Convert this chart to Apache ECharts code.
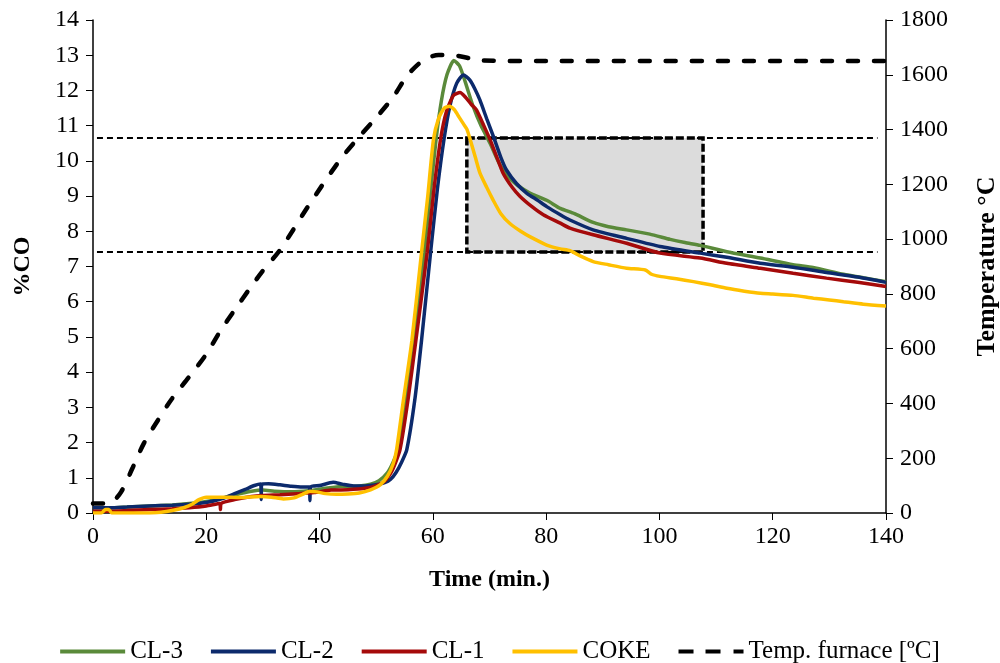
<!DOCTYPE html>
<html>
<head>
<meta charset="utf-8">
<script src="https://cdn.jsdelivr.net/npm/echarts@6/dist/echarts.min.js"></script>
<style>
html,body{margin:0;padding:0;background:#fff;}
#chart{width:1000px;height:663px;}
</style>
</head>
<body>
<div id="chart"></div>
<script>
// time (min) , %CO
var cl3 = [[0,0.15],[3,0.15],[6,0.17],[10,0.2],[14,0.23],[17,0.27],[20,0.33],[23,0.43],[26,0.55],[28,0.62],[30,0.65],[32,0.62],[35,0.6],[38,0.63],[41,0.7],[44,0.75],[47,0.77],[49,0.82],[50.5,0.92],[52,1.15],[53,1.45],[53.8,1.8],[55.1,3.2],[56.7,4.9],[58.5,7.4],[59.5,9.0],[60.6,10.65],[61.5,11.7],[62.5,12.45],[63.7,12.85],[64.7,12.7],[65.7,12.25],[67.1,11.55],[68.5,11.0],[70.1,10.5],[71.5,10.0],[73,9.6],[75,9.3],[77.2,9.08],[80.1,8.88],[82.5,8.65],[85,8.5],[88.3,8.25],[91,8.13],[94.2,8.04],[98.3,7.92],[101.9,7.77],[104.5,7.68],[107.2,7.6],[111.9,7.42],[117.8,7.24],[123.6,7.05],[127.1,6.97],[132.5,6.78],[136,6.68],[140,6.57]];
var cl2 = [[0,0.15],[3,0.15],[6,0.17],[10,0.2],[14,0.22],[17,0.25],[20,0.3],[23,0.42],[25,0.55],[27,0.68],[28.5,0.78],[29.6,0.82],[29.7,0.38],[29.8,0.82],[31,0.83],[33,0.8],[35,0.76],[37,0.74],[38.2,0.74],[38.3,0.35],[38.4,0.74],[40,0.78],[42.4,0.87],[44,0.82],[46,0.77],[48,0.77],[50,0.8],[51.5,0.86],[52.5,0.95],[53.5,1.15],[54.5,1.45],[55.4,1.8],[56.8,3.2],[58,4.9],[59.6,7.4],[60.8,9.2],[62,10.65],[63,11.55],[64.2,12.2],[65.4,12.44],[66.5,12.3],[67.4,12.05],[68.3,11.73],[69.5,11.2],[70.7,10.69],[72,10.1],[73,9.74],[74.8,9.35],[76.6,9.08],[78.5,8.88],[80.1,8.7],[82.5,8.47],[84.2,8.32],[88.3,8.04],[94.2,7.8],[100.1,7.57],[107.2,7.38],[111.9,7.26],[117.8,7.09],[123.6,6.98],[129.5,6.83],[135,6.7],[140,6.55]];
var cl1 = [[0,0.05],[3,0.05],[6,0.07],[10,0.1],[14,0.12],[17,0.15],[20,0.2],[22.4,0.27],[22.5,0.1],[22.6,0.27],[25,0.38],[28,0.47],[30,0.5],[33,0.52],[36,0.55],[39,0.58],[42,0.65],[45,0.66],[48,0.7],[50,0.78],[51.5,0.9],[52.8,1.2],[54.2,1.8],[55.6,3.2],[57,4.9],[59,7.4],[60.2,9.2],[61.4,10.65],[62.4,11.4],[63.6,11.85],[64.8,11.94],[65.8,11.8],[66.8,11.6],[67.7,11.45],[69,11.0],[70.1,10.6],[71.3,10.1],[72.4,9.65],[74,9.25],[75.4,8.99],[77.5,8.7],[79.5,8.47],[82.5,8.23],[84.2,8.09],[88.3,7.9],[94.2,7.66],[100.1,7.38],[107.2,7.24],[111.9,7.09],[117.8,6.95],[123.6,6.81],[129.5,6.67],[135,6.55],[140,6.43]];
var coke = [[0,0],[1.5,0],[2.2,0.1],[2.8,0.1],[3.3,0],[6,0],[10,0],[12,0.02],[14.2,0.08],[16,0.15],[17.5,0.25],[18.7,0.38],[20,0.45],[23,0.45],[26,0.44],[29.5,0.47],[31.5,0.45],[33.6,0.4],[35.5,0.43],[37,0.53],[38.3,0.62],[39.5,0.6],[41,0.55],[43,0.53],[45,0.54],[47,0.57],[49,0.66],[50.7,0.8],[52,1.05],[53,1.4],[53.6,1.8],[54.8,3.2],[56.3,4.9],[58.0,7.4],[59.1,9.0],[60.1,10.6],[61,11.2],[62,11.5],[62.9,11.55],[63.8,11.45],[64.6,11.25],[65.4,11.05],[66,10.9],[66.6,10.6],[67.5,10.1],[68.3,9.66],[69.5,9.25],[70.6,8.9],[72,8.5],[73.6,8.22],[75.5,8.0],[77.2,7.84],[80.1,7.61],[82.5,7.5],[84.2,7.45],[86,7.3],[88.3,7.14],[91,7.05],[94.2,6.95],[97.5,6.9],[98.6,6.78],[100.1,6.72],[103,6.65],[106,6.57],[109,6.48],[111.9,6.38],[115,6.3],[117.8,6.24],[120,6.22],[123.6,6.18],[127.2,6.1],[130,6.05],[132.5,6.0],[136,5.93],[140,5.88]];
// time (min) , furnace temperature (°C)
var tempFurnace = [[0,35],[2.4,35],[3.4,40],[5,78],[7,165],[9,255],[11.5,340],[14,419],[17,498],[20,580],[22.4,662],[25,741],[27.7,820],[30,885],[33,960],[38.3,1130],[43.6,1289],[46.8,1369],[50.1,1446],[53,1519],[55.4,1595],[57.5,1640],[59,1661],[61,1672],[63,1672],[65,1667],[67,1658],[69,1652],[80,1650],[140,1650]];
// reference levels (%CO) and shaded window
var refUpper = [[0.7,10.65],[138.5,10.65]];
var refLower = [[0.7,7.41],[138.5,7.41]];
var boxFrom = [66, 10.65];
var boxTo = [107.7, 7.41];

var font = 'Liberation Serif, Times New Roman, serif';
var lineIcon = 'path://M0,0H65V4H0Z';
var dashIcon = 'path://M0,0H15V4H0Z M27,0H42V4H27Z M55,0H65V4H55Z';

var chart = echarts.init(document.getElementById('chart'));

function coSeries(name, data, color){
  return {
    name: name, type: 'line', data: data, yAxisIndex: 0,
    symbol: 'none', smooth: 0.2,
    lineStyle: {color: color, width: 3.5}, itemStyle: {color: color},
    z: 3
  };
}

var option = {
  animation: false,
  textStyle: {fontFamily: font},
  grid: {left: 93, right: 114, top: 20, bottom: 150, outerBoundsMode: 'none', containLabel: false},
  legend: {
    data: [
      {name: 'CL-3', icon: lineIcon},
      {name: 'CL-2', icon: lineIcon},
      {name: 'CL-1', icon: lineIcon},
      {name: 'COKE', icon: lineIcon},
      {name: 'Temp. furnace [ºC]', icon: dashIcon}
    ],
    top: 634, left: 'center',
    itemWidth: 65, itemHeight: 4, itemGap: 28,
    itemStyle: {borderWidth: 0},
    textStyle: {fontFamily: font, fontSize: 25, color: '#000'}
  },
  xAxis: {
    type: 'value', min: 0, max: 140, interval: 20,
    name: 'Time (min.)', nameLocation: 'middle', nameGap: 55,
    nameTextStyle: {fontFamily: font, fontSize: 24, fontWeight: 'bold', color: '#000'},
    axisLine: {lineStyle: {color: '#000', width: 1.5}},
    axisTick: {length: 7, lineStyle: {color: '#000'}},
    axisLabel: {fontFamily: font, fontSize: 24, color: '#000', margin: 12},
    splitLine: {show: false}
  },
  yAxis: [{
    type: 'value', min: 0, max: 14, interval: 1,
    name: '%CO', nameLocation: 'middle', nameGap: 58, nameRotate: 90,
    nameTextStyle: {fontFamily: font, fontSize: 24, fontWeight: 'bold', color: '#000'},
    axisLine: {show: true, lineStyle: {color: '#000', width: 1.5}},
    axisTick: {show: true, length: 7, lineStyle: {color: '#000'}},
    axisLabel: {fontFamily: font, fontSize: 24, color: '#000', margin: 14},
    splitLine: {show: false}
  }, {
    type: 'value', min: 0, max: 1800, interval: 200, position: 'right',
    name: 'Temperature °C', nameLocation: 'middle', nameGap: 88, nameRotate: 90,
    nameTextStyle: {fontFamily: font, fontSize: 26, fontWeight: 'bold', color: '#000'},
    axisLine: {show: true, lineStyle: {color: '#000', width: 1.5}},
    axisTick: {show: true, length: 7, lineStyle: {color: '#000'}},
    axisLabel: {fontFamily: font, fontSize: 24, color: '#000', margin: 14,
      formatter: function(v){ return String(v); }},
    splitLine: {show: false}
  }],
  series: [
    {name: 'ref-upper', type: 'line', data: refUpper, symbol: 'none', z: 1,
     lineStyle: {color: '#000', width: 2, type: [6, 4]}},
    {name: 'ref-lower', type: 'line', data: refLower, symbol: 'none', z: 1,
     lineStyle: {color: '#000', width: 2, type: [6, 4]}},
    coSeries('CL-3', cl3, '#5a8a3a'),
    coSeries('CL-2', cl2, '#0c2a6c'),
    coSeries('CL-1', cl1, '#a50a0a'),
    coSeries('COKE', coke, '#ffc000'),
    {name: 'window', type: 'line', data: [], z: 6,
     markArea: {
       silent: true,
       itemStyle: {color: 'rgba(185,185,185,0.5)', borderColor: '#000', borderWidth: 3.5, borderType: [8, 3]},
       data: [[{coord: boxFrom}, {coord: boxTo}]]
     }},
    {name: 'Temp. furnace [ºC]', type: 'line', data: tempFurnace, yAxisIndex: 1,
     symbol: 'none', smooth: 0.3, z: 8,
     lineStyle: {color: '#000', width: 4.5, type: [10, 16], cap: 'round'},
     itemStyle: {color: '#000'}}
  ]
};
chart.setOption(option);
</script>
</body>
</html>
